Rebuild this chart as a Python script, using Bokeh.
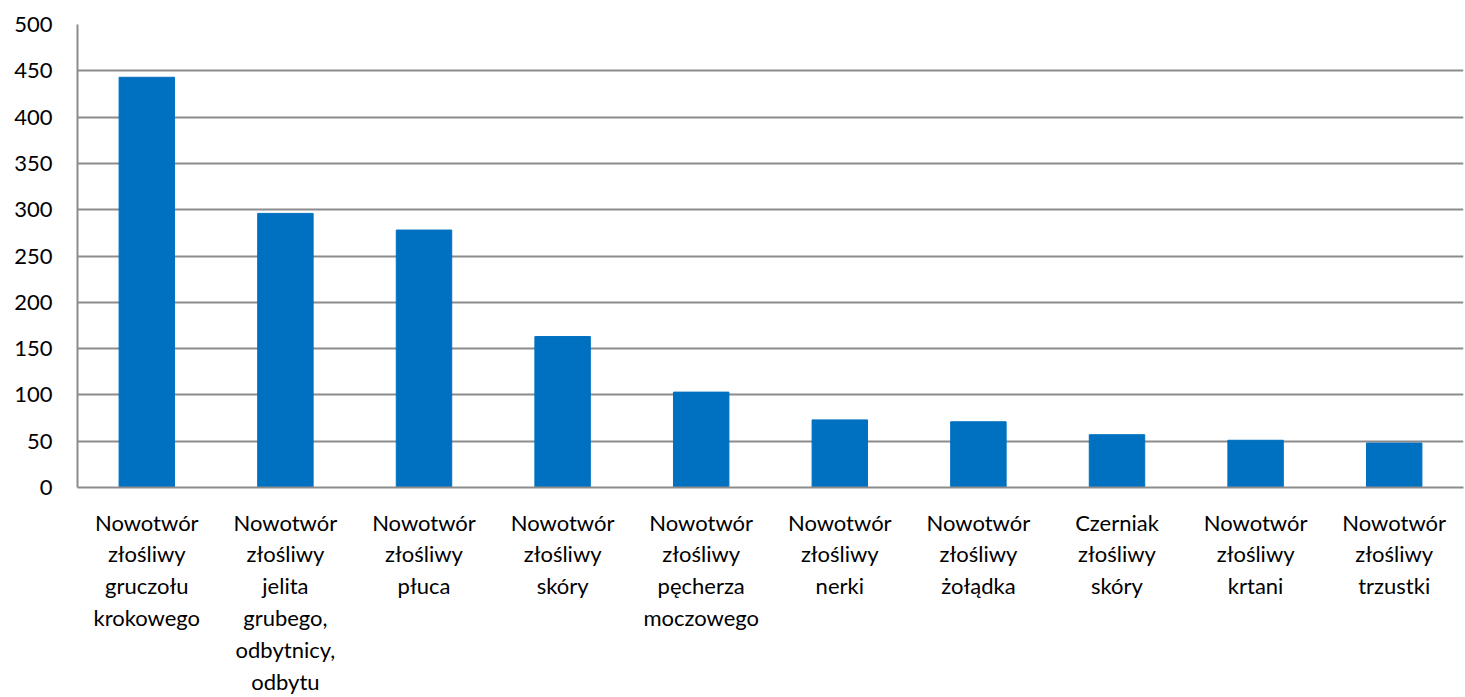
from bokeh.plotting import figure
from bokeh.models import ColumnDataSource, FixedTicker, Range1d
from bokeh.embed import file_html
from bokeh.resources import INLINE

categories = [
    "Nowotwór\nzłośliwy\ngruczołu\nkrokowego",
    "Nowotwór\nzłośliwy\njelita\ngrubego,\nodbytnicy,\nodbytu",
    "Nowotwór\nzłośliwy\npłuca",
    "Nowotwór\nzłośliwy\nskóry",
    "Nowotwór\nzłośliwy\npęcherza\nmoczowego",
    "Nowotwór\nzłośliwy\nnerki",
    "Nowotwór\nzłośliwy\nżołądka",
    "Czerniak\nzłośliwy\nskóry",
    "Nowotwór\nzłośliwy\nkrtani",
    "Nowotwór\nzłośliwy\ntrzustki",
]
values = [443, 296, 278, 163, 103, 73, 71, 57, 51, 48]
y_ticks = [0, 50, 100, 150, 200, 250, 300, 350, 400, 450, 500]

FONT = "Lato"
GRID = "#8c8c8c"

src = ColumnDataSource(dict(cat=categories, val=values))

p = figure(
    x_range=categories, y_range=Range1d(0, 500),
    width=1465, height=697,
    output_backend="svg", toolbar_location=None,
    min_border_left=77, min_border_right=2, min_border_top=24, min_border_bottom=209,
)
p.vbar(x="cat", top="val", width=0.4, source=src, color="#0070C0", line_color="#0070C0")

p.outline_line_color = None
p.background_fill_color = "white"
p.border_fill_color = "white"

p.xgrid.grid_line_color = None
p.ygrid.grid_line_color = GRID
p.ygrid.grid_line_width = 2
p.yaxis.ticker = FixedTicker(ticks=y_ticks)

for ax in (p.xaxis[0], p.yaxis[0]):
    ax.axis_line_color = GRID
    ax.axis_line_width = 2
    ax.major_tick_line_color = None
    ax.minor_tick_line_color = None
    ax.major_tick_out = 0
    ax.major_tick_in = 0
    ax.major_label_text_font = FONT
    ax.major_label_text_font_size = "22px"
    ax.major_label_text_color = "black"

p.yaxis.major_label_standoff = 25
p.xaxis.major_label_standoff = 21
p.xaxis.major_label_text_line_height = 1.18
p.xaxis.major_label_orientation = "horizontal"
p.x_range.range_padding = 0.0

open("out.html", "w").write(file_html(p, INLINE))
